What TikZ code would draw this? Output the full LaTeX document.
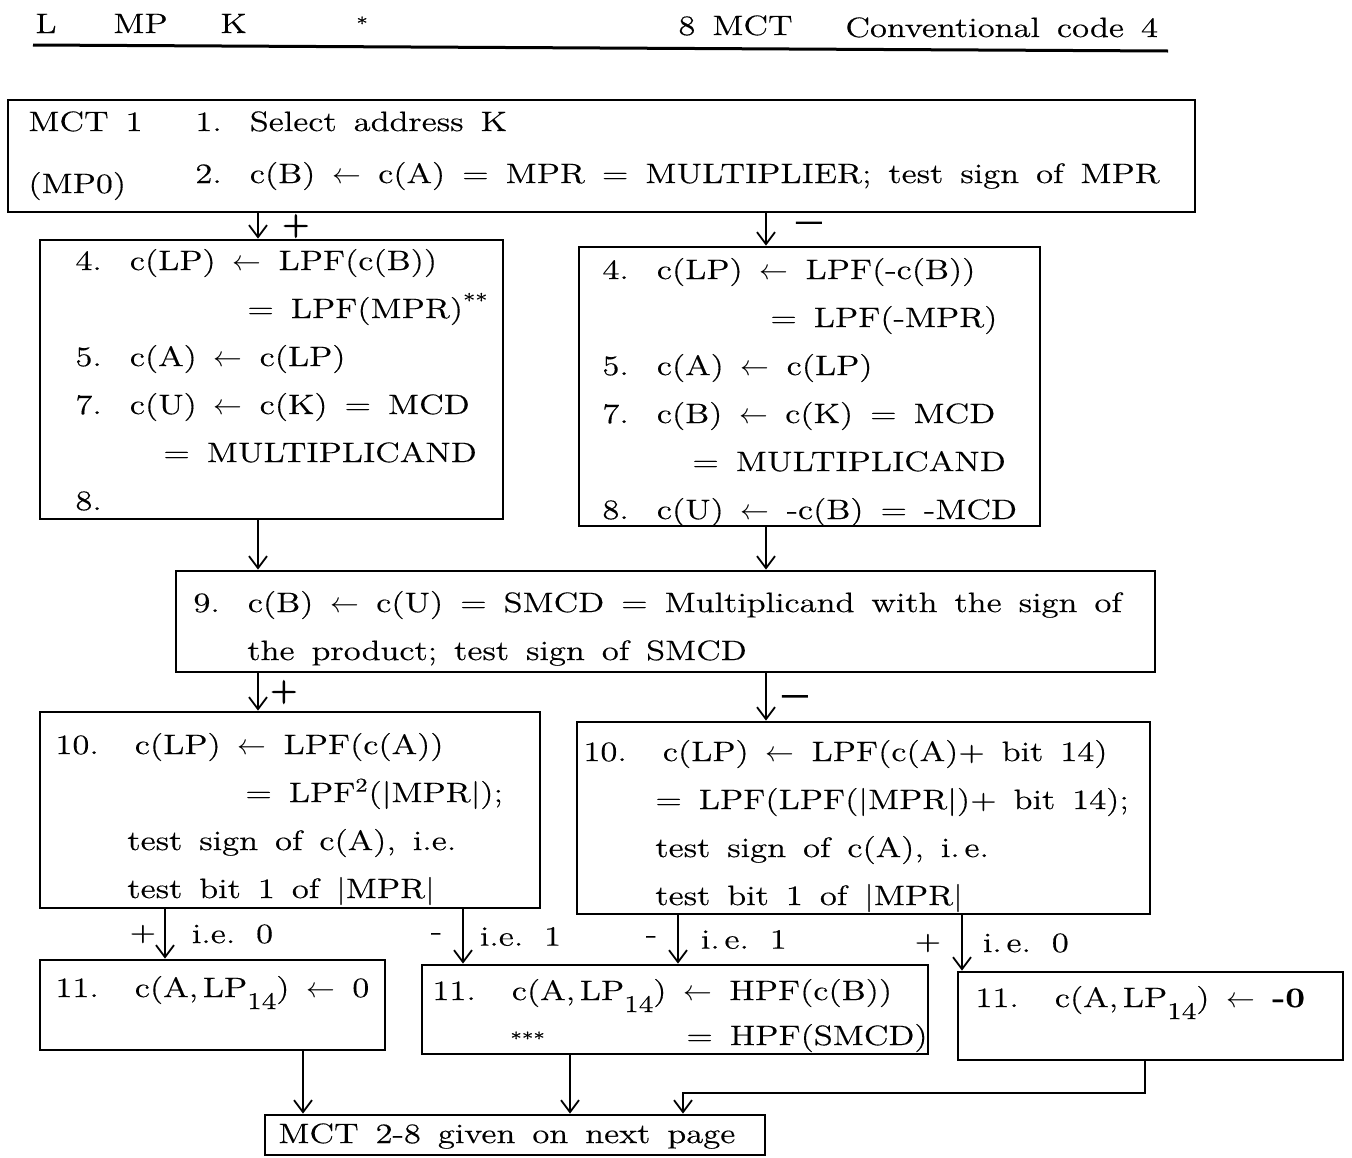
\documentclass[tikz,border=0pt]{standalone}
\usepackage{fontspec}
\setmainfont{Latin Modern Roman}[FakeStretch=1.24,WordSpace=1.5,FakeBold=0.4]
\newfontfamily\signfont{Latin Modern Roman}[FakeBold=3]
\usepackage{tikz}
\usetikzlibrary{arrows.meta,positioning,fit}
\newcommand{\larr}{$\leftarrow$}
\newcommand{\nsep}{\hspace{14pt}}
\newcommand{\nnsep}{\hspace{18pt}}
\newcommand{\lpsub}{LP\raisebox{-6pt}{\fontsize{12}{12}\selectfont 14}}
\tikzset{
  mbox/.style={draw,line width=1.4pt,inner sep=0pt},
  mtxt/.style={anchor=base west,align=left,inner sep=0pt},
  marr/.style={-{Straight Barb[length=6pt,width=9pt]},line width=0.9pt},
  msign/.style={font=\fontsize{18}{18}\signfont,inner sep=0pt},
  mdash/.style={font=\fontsize{26}{26}\signfont,inner sep=0pt},
  mlbl/.style={inner sep=0pt},
  mrule/.style={line width=1.5pt}
}

\begin{document}
\begin{tikzpicture}[x=0.5pt,y=-0.5pt,font=\fontsize{14}{24}\selectfont]
  \useasboundingbox (0,0) rectangle (1352,1157);
  % page heading
  \node[mtxt] (hl) at (35,33) {L};
  \node[mtxt] (hmp) at (113,33) {MP};
  \node[mtxt] (hk) at (220,33) {K};
  \node[mtxt,font=\small] (hst) at (356,30) {*};
  \node[mtxt] (hmct) at (678,35) {8 MCT};
  \node[mtxt] (hcc) at (845,37) {Conventional code 4};
  \draw[mrule] (33,45) -- (1168,51);

  % columns of the connectors
  \coordinate (cA) at (258,0);
  \coordinate (cB) at (766,0);
  \coordinate (cC) at (165,0);
  \coordinate (cD) at (463,0);
  \coordinate (cE) at (678,0);
  \coordinate (cF) at (962,0);
  \coordinate (cG) at (303,0);
  \coordinate (cH) at (570,0);
  \coordinate (cI) at (1145,0);
  \coordinate (kink) at (683,1093);

  % boxes
  \node[mbox,fit={(8,100) (1195,212)}] (b1) {};
  \node[mbox,fit={(40,240) (503,519)}] (b4l) {};
  \node[mbox,fit={(579,247) (1040,526)}] (b4r) {};
  \node[mbox,fit={(176,571) (1155,672)}] (b9) {};
  \node[mbox,fit={(40,712) (540,908)}] (b10l) {};
  \node[mbox,fit={(577,722) (1150,914)}] (b10r) {};
  \node[mbox,fit={(40,960) (385,1050)}] (b11a) {};
  \node[mbox,fit={(422,965) (928,1054)}] (b11b) {};
  \node[mbox,fit={(958,972) (1343,1060)}] (b11c) {};
  \node[mbox,fit={(265,1115) (765,1155)}] (bend) {};

  % texts (placed at the baseline of their last line)
  \node[mtxt] (t1a) at (28,193) {MCT 1\\[7pt](MP0)};
  \node[mtxt] (t1b) at (195,183) {1.\nsep Select address K\\[2pt]
    2.\nsep c(B) \larr{} c(A) = MPR = MULTIPLIER; test sign of MPR};
  \node[mtxt] (t4l) at (75,510) {4.\nsep c(LP) \larr{} LPF(c(B))\\
    \hspace*{86pt}= LPF(MPR)\textsuperscript{**}\\
    5.\nsep c(A) \larr{} c(LP)\\
    7.\nsep c(U) \larr{} c(K) = MCD\\
    \hspace*{44pt}= MULTIPLICAND\\
    8.};
  \node[mtxt] (t4r) at (602,519) {4.\nsep c(LP) \larr{} LPF(-c(B))\\
    \hspace*{84pt}= LPF(-MPR)\\
    5.\nsep c(A) \larr{} c(LP)\\
    7.\nsep c(B) \larr{} c(K) = MCD\\
    \hspace*{45pt}= MULTIPLICAND\\
    8.\nsep c(U) \larr{} -c(B) = -MCD};
  \node[mtxt] (t9) at (193,660) {9.\nsep c(B) \larr{} c(U) = SMCD = Multiplicand with the sign of\\
    \hspace*{27pt}the product; test sign of SMCD};
  \node[mtxt] (t10l) at (55,898) {10.\nnsep c(LP) \larr{} LPF(c(A))\\
    \hspace*{95pt}= LPF\textsuperscript{2}(|MPR|);\\
    \hspace*{36pt}test sign of c(A), i.e.\\
    \hspace*{36pt}test bit 1 of |MPR|};
  \node[mtxt] (t10r) at (583,905) {10.\nnsep c(LP) \larr{} LPF(c(A)+ bit 14)\\
    \hspace*{36pt}= LPF(LPF(|MPR|)+ bit 14);\\
    \hspace*{36pt}test sign of c(A), i.\,e.\\
    \hspace*{36pt}test bit 1 of |MPR|};
  \node[mtxt] (t11a) at (55,997) {11.\nnsep c(A,\,\lpsub) \larr{} 0};
  \node[mtxt] (t11b) at (432,1045) {11.\nnsep c(A,\,\lpsub) \larr{} HPF(c(B))\\[-1.5pt]
    \makebox[127pt][l]{\hspace*{39pt}{\small ***}}= HPF(SMCD)};
  \node[mtxt] (t11c) at (975,1007) {11.\nnsep c(A,\,\lpsub) \larr{} \textbf{-0}};
  \node[mtxt] (tend) at (278,1143) {MCT 2-8 given on next page};

  % connectors
  \draw[marr] (b1.south -| cA) -- node[msign,right=12pt] (s1) {+} (b4l.north -| cA);
  \draw[marr] (b1.south -| cB) -- node[mdash,right=15pt] (s2) {–} (b4r.north -| cB);
  \draw[marr] (b4l.south -| cA) -- (b9.north -| cA);
  \draw[marr] (b4r.south -| cB) -- (b9.north -| cB);
  \draw[marr] (b9.south -| cA) -- node[msign,right=6pt] (s3) {+} (b10l.north -| cA);
  \draw[marr] (b9.south -| cB) -- node[mdash,right=8pt,yshift=-3pt] (s4) {–} (b10r.north -| cB);
  \draw[marr] (b10l.south -| cC) -- node[mlbl,left=4pt] (s5) {+}
    node[mlbl,right=13pt] (l5) {i.e. 0} (b11a.north -| cC);
  \draw[marr] (b10l.south -| cD) -- node[mlbl,left=10pt] (s6) {-}
    node[mlbl,right=8pt] (l6) {i.e. 1} (b11b.north -| cD);
  \draw[marr] (b10r.south -| cE) -- node[mlbl,left=10pt] (s7) {-}
    node[mlbl,right=11pt] (l7) {i.\,e. 1} (b11b.north -| cE);
  \draw[marr] (b10r.south -| cF) -- node[mlbl,left=10pt] (s8) {+}
    node[mlbl,right=10pt] (l8) {i.\,e. 0} (b11c.north -| cF);
  \draw[marr] (b11a.south -| cG) -- (bend.north -| cG);
  \draw[marr] (b11b.south -| cH) -- (bend.north -| cH);
  \draw[marr] (b11c.south -| cI) |- (kink) -- (bend.north -| kink);
\end{tikzpicture}
\end{document}
